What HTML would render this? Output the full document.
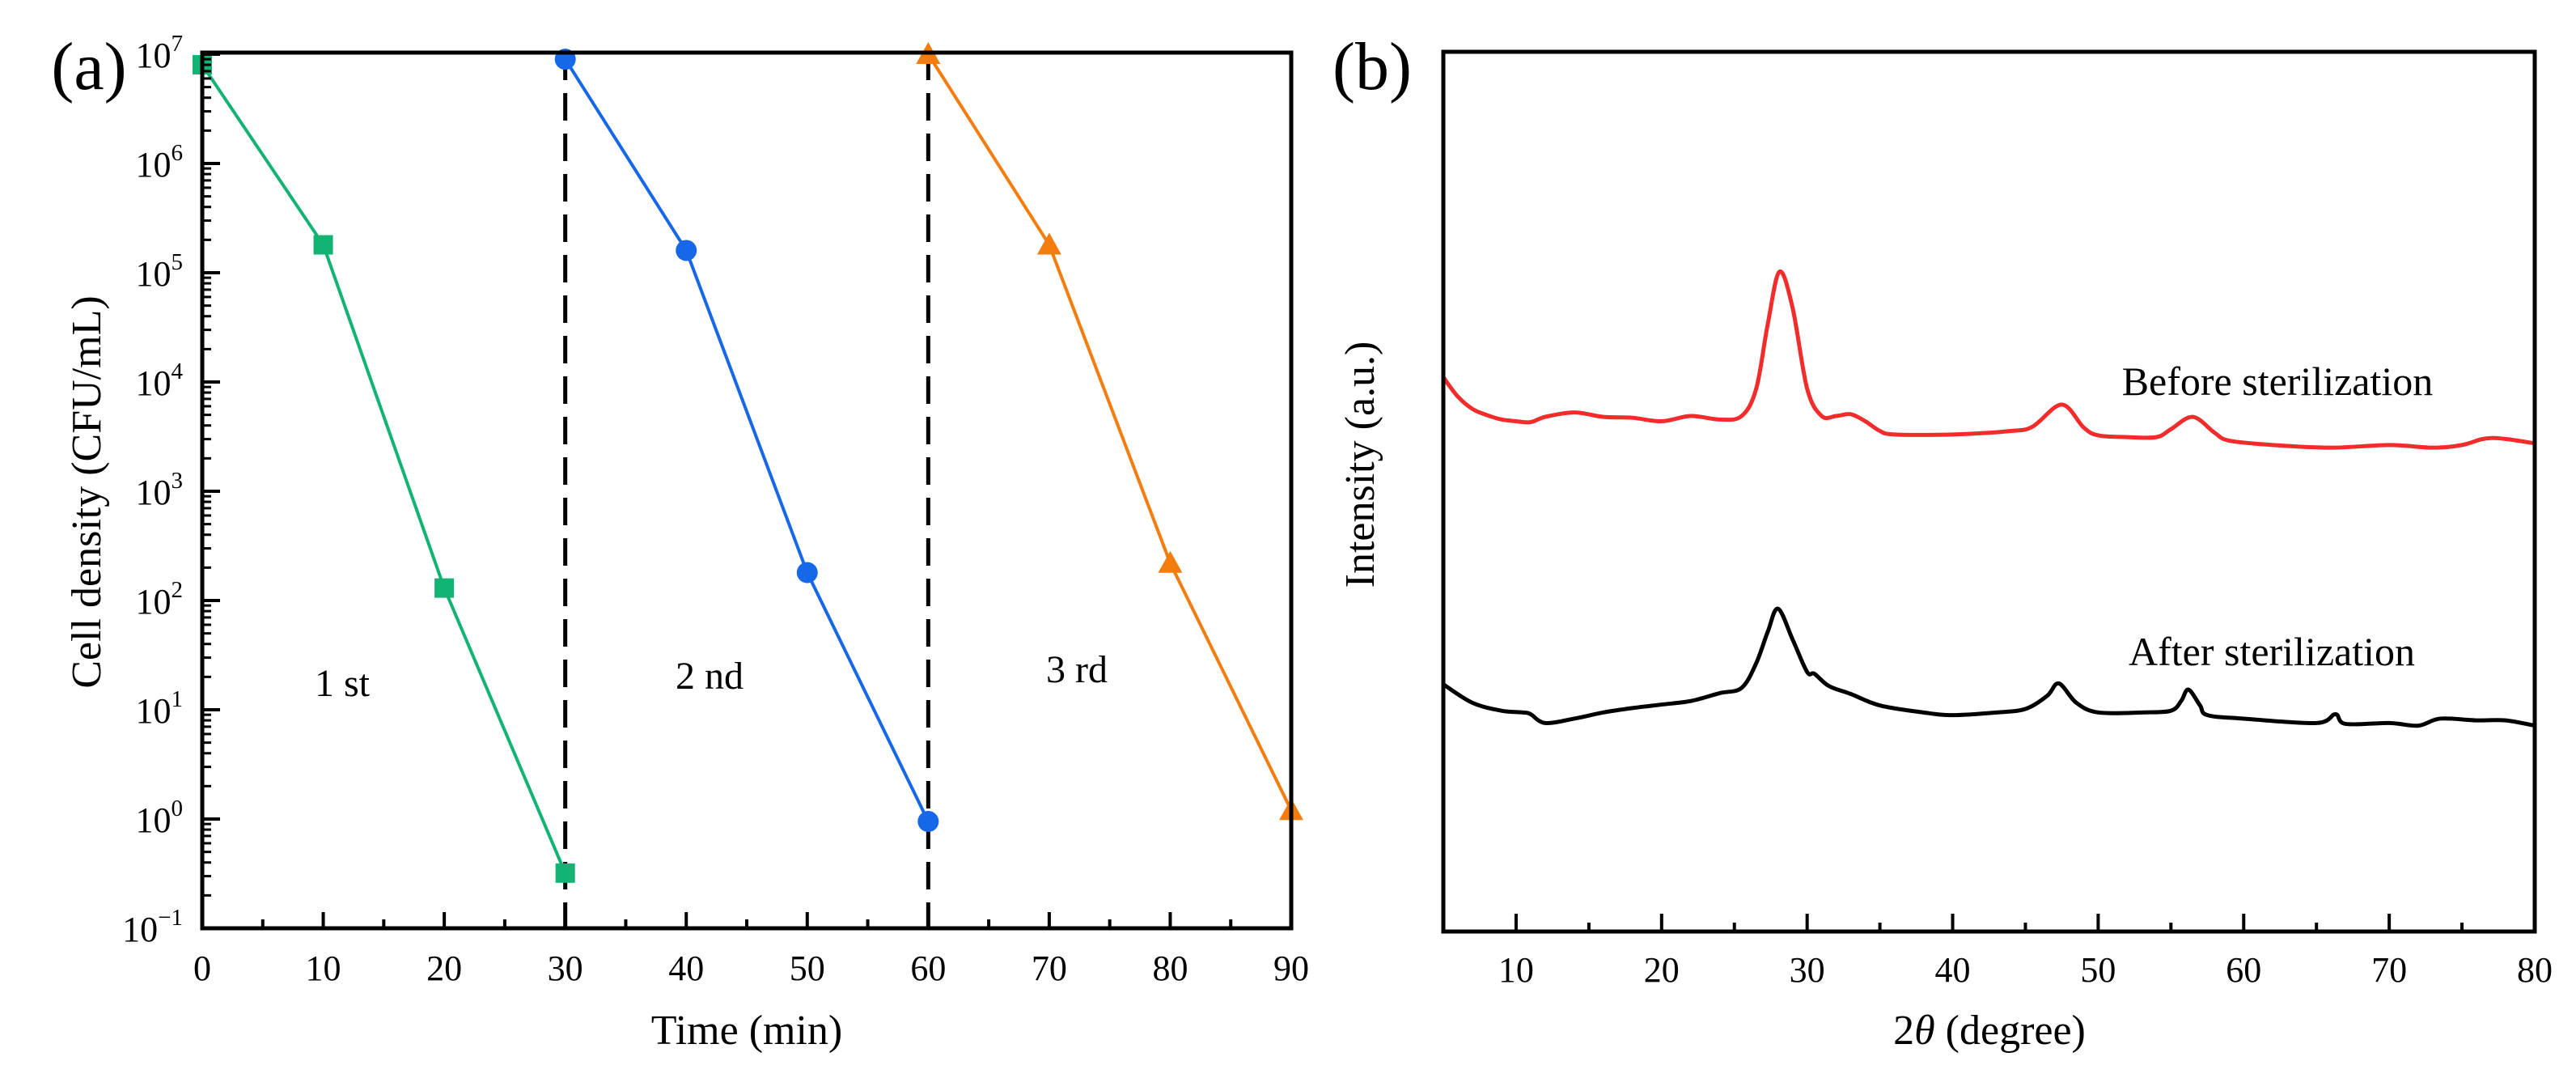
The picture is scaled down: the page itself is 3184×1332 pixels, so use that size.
<!DOCTYPE html>
<html><head><meta charset="utf-8"><style>
html,body{margin:0;padding:0;background:#fff}
svg{display:block;font-family:"Liberation Serif",serif}
</style></head><body>
<svg id="fig" width="3184" height="1332" viewBox="0 0 3184 1332">
<g id="pa"></g>
<g id="pb"></g>
</svg>
<script>
const NS="http://www.w3.org/2000/svg";
// ---- Panel (a) data ----
const aTimesGreen=[0,10,20,30];
const aValsGreen=[8e6,1.8e5,130,0.32];
const aTimesBlue=[30,40,50,60];
const aValsBlue=[9e6,1.6e5,180,0.95];
const aTimesOrange=[60,70,80,90];
const aValsOrange=[1e7,1.8e5,220,1.2];
const aXTicks=[0,10,20,30,40,50,60,70,80,90];
const aYExps=[-1,0,1,2,3,4,5,6,7];
const aDashX=[30,60];
// ---- Panel (b) data ----
const bXRed=[5,6,7,8,9,10,11,12,14,16,18,20,22,24,25.5,26.5,27.3,28.1,29,30,31,32,33,34,35,36,40,44,45.5,47.5,49,50,52,54,55,56.5,58,59,62,66,70,73,75,77,80];
const bYRed=[63.0,60.8,59.4,58.7,58.2,58.0,57.9,58.5,59.0,58.5,58.4,58.0,58.6,58.2,58.6,61.7,69.1,75.0,70.9,61.7,58.6,58.6,58.8,58.0,56.9,56.5,56.5,56.9,57.4,59.9,57.3,56.4,56.2,56.2,57.1,58.5,56.7,55.8,55.3,55.0,55.3,55.0,55.3,56.1,55.5];
const bXBlack=[5,7,9,10.5,11,12,14,16,18,20,22,24,25.5,26.5,27.3,28,29,30,30.5,31.5,33,35,38,40,43,45,46.5,47.3,48.5,50,53,55,55.7,56.2,57,57.5,60,65,66.3,67,70,72,73.5,76,78,80];
const bYBlack=[28.1,26.0,25.1,24.9,24.7,23.7,24.2,24.9,25.4,25.8,26.2,27.1,27.7,30.5,34.1,36.7,33.2,29.5,29.3,27.9,27.0,25.7,24.9,24.6,24.9,25.3,26.8,28.2,26.0,24.9,24.9,25.1,26.2,27.5,25.7,24.6,24.2,23.7,24.7,23.6,23.7,23.4,24.2,24.0,24.0,23.4];
const bXTicks=[10,20,30,40,50,60,70,80];

function mk(tag,attrs,parent,text){const e=document.createElementNS(NS,tag);for(const k in attrs)e.setAttribute(k,attrs[k]);if(text!==undefined)e.textContent=text;parent.appendChild(e);return e;}
function smooth(p){let d='M'+p[0][0]+','+p[0][1];for(let i=0;i<p.length-1;i++){const p0=p[i-1]||p[i],p1=p[i],p2=p[i+1],p3=p[i+2]||p2;
 const c1=[p1[0]+(p2[0]-p0[0])/6,p1[1]+(p2[1]-p0[1])/6],c2=[p2[0]-(p3[0]-p1[0])/6,p2[1]-(p3[1]-p1[1])/6];
 d+=` C${c1[0]},${c1[1]} ${c2[0]},${c2[1]} ${p2[0]},${p2[1]}`;}return d;}

// ---- Panel a ----
const pa=document.getElementById('pa');
const AL=250,AR=1596,AT=65,AB=1147;
const ax=t=>AL+(t-0)/(90-0)*(AR-AL);
const ay=v=>1147-(Math.log10(v)+1)/8*(1147-67);
aDashX.forEach((t,i)=>{const l=mk('line',{x1:ax(t),x2:ax(t),y1:AT,y2:AB,stroke:'#000','stroke-width':5,'stroke-dasharray':'34,16'},pa);

});
function series(xs,vs,color,marker,name){
  const g=mk('g',{},pa);
  
  
  const pts=xs.map((t,i)=>ax(t)+','+ay(vs[i])).join(' ');
  const pl=mk('polyline',{points:pts,fill:'none',stroke:color,'stroke-width':4},g);
  
  
  xs.forEach((t,i)=>{const x=ax(t),y=ay(vs[i]);let m;
    if(marker==='sq')m=mk('rect',{x:x-12,y:y-12,width:24,height:24,fill:color},g);
    else if(marker==='ci')m=mk('circle',{cx:x,cy:y,r:13,fill:color},g);
    else m=mk('polygon',{points:`${x},${y-15} ${x-15},${y+12} ${x+15},${y+12}`,fill:color},g);
    
    });
}
series(aTimesGreen,aValsGreen,'#13b373','sq','first-cycle');
series(aTimesBlue,aValsBlue,'#1668e8','ci','second-cycle');
series(aTimesOrange,aValsOrange,'#f57c0e','tr','third-cycle');
const fa=mk('rect',{x:AL,y:AT,width:AR-AL,height:AB-AT,fill:'none',stroke:'#000','stroke-width':5},pa);


aXTicks.forEach(t=>{const x=ax(t);mk('line',{x1:x,x2:x,y1:AB,y2:AB-20,stroke:'#000','stroke-width':4},pa);
 if(t<90)mk('line',{x1:ax(t+5),x2:ax(t+5),y1:AB,y2:AB-11,stroke:'#000','stroke-width':4},pa);
 const tx=mk('text',{x:x,y:AB+64,'font-size':44,'text-anchor':'middle'},pa,String(t));
 
 });
aYExps.forEach(e=>{const y=ay(Math.pow(10,e));mk('line',{x1:AL,x2:AL+22,y1:y,y2:y,stroke:'#000','stroke-width':4},pa);
 if(e<7)for(let k=2;k<10;k++){const yy=ay(k*Math.pow(10,e));mk('line',{x1:AL,x2:AL+11,y1:yy,y2:yy,stroke:'#000','stroke-width':3},pa);}
 const tx=mk('text',{x:AL-24,y:y+16,'font-size':44,'text-anchor':'end'},pa);
 
 
 mk('tspan',{},tx,'10');
 mk('tspan',{dy:-20,'font-size':29},tx,e<0?'\u2212'+Math.abs(e):String(e));});
function label(parent,x,y,size,txt,name,extra){const t=mk('text',Object.assign({x:x,y:y,'font-size':size,'text-anchor':'middle'},extra||{}),parent,txt);
 
 return t;}
label(pa,923,1290,52,'Time (min)','x-axis-title');
label(pa,0,0,52,'Cell density (CFU/mL)','y-axis-title',{transform:'translate(124,608) rotate(-90)'});
label(pa,110,110,84,'(a)','panel-a-label');
label(pa,423,860,48,'1 st','cycle-1-label');
label(pa,877,851,48,'2 nd','cycle-2-label');
label(pa,1331,843,48,'3 rd','cycle-3-label');

// ---- Panel b ----
const pb=document.getElementById('pb');
const BL=1784,BR=3133,BT=64,BB=1151;
const bx=d=>BL+(d-5)/(80-5)*(BR-BL);
const by=v=>BB-v/100*(BB-BT);
const lr=mk('path',{d:smooth(bXRed.map((d,i)=>[bx(d),by(bYRed[i])])),fill:'none',stroke:'#f22b2b','stroke-width':5,'stroke-linejoin':'round'},pb);


const lb=mk('path',{d:smooth(bXBlack.map((d,i)=>[bx(d),by(bYBlack[i])])),fill:'none',stroke:'#000','stroke-width':5,'stroke-linejoin':'round'},pb);


const fb=mk('rect',{x:BL,y:BT,width:BR-BL,height:BB-BT,fill:'none',stroke:'#000','stroke-width':5},pb);


bXTicks.forEach(d=>{const x=bx(d);mk('line',{x1:x,x2:x,y1:BB,y2:BB-22,stroke:'#000','stroke-width':4},pb);
 if(d<80)mk('line',{x1:bx(d+5),x2:bx(d+5),y1:BB,y2:BB-11,stroke:'#000','stroke-width':4},pb);
 const tx=mk('text',{x:x,y:BB+62,'font-size':44,'text-anchor':'middle'},pb,String(d));
 
 });
const xt=label(pb,2459,1290,52,'','b-x-axis-title');
mk('tspan',{},xt,'2');mk('tspan',{'font-style':'italic'},xt,'\u03b8');mk('tspan',{},xt,' (degree)');
label(pb,0,0,52,'Intensity (a.u.)','b-y-axis-title',{transform:'translate(1698,574) rotate(-90)'});
label(pb,1696,110,84,'(b)','panel-b-label');
label(pb,2815,488,50,'Before sterilization','before-label');
label(pb,2808,822,50,'After sterilization','after-label');
</script>
</body></html>
